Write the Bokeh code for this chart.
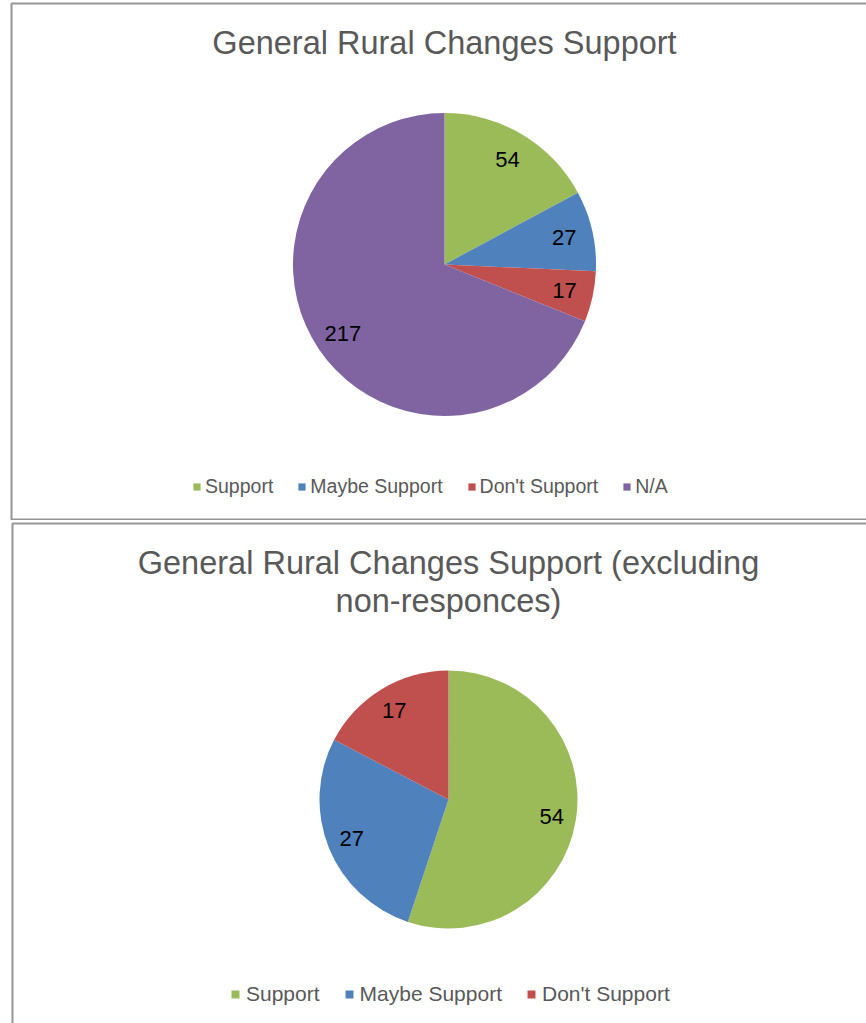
import numpy as np
from bokeh.plotting import figure
from bokeh.models import (ColumnDataSource, Range1d, Label, Legend, LegendItem,
                          BoxAnnotation)
from bokeh.layouts import column
from bokeh.embed import file_html
from bokeh.resources import INLINE
from bokeh.core.properties import value

# ---------------- data ----------------
top_title = "General Rural Changes Support"
top_categories = ["Support", "Maybe Support", "Don't Support", "N/A"]
top_values = [54, 27, 17, 217]
top_colors = ["#9BBB59", "#4F81BD", "#C0504D", "#8064A2"]

bottom_title_lines = ["General Rural Changes Support (excluding", "non-responces)"]
bottom_categories = ["Support", "Maybe Support", "Don't Support"]
bottom_values = [54, 27, 17]
bottom_colors = ["#9BBB59", "#4F81BD", "#C0504D"]

FONT = "Liberation Sans"
TEXT_GREY = "#595959"
BORDER = "#959595"
W = 866


def make_panel(h, cats, vals, colors, titles, title_mids, cx, cy_top, radius,
               label_size, legend_font, legend_sq, legend_standoff, legend_spacing,
               legend_loc, border_top, border_left, border_bottom):
    p = figure(width=W, height=h, output_backend="svg", toolbar_location=None,
               x_range=Range1d(0, W), y_range=Range1d(0, h),
               x_axis_location=None, y_axis_location=None,
               min_border=0, title=None)
    p.grid.visible = False
    p.outline_line_color = None
    p.background_fill_color = "white"
    p.border_fill_color = "white"

    v = np.array(vals, dtype=float)
    frac = v / v.sum()
    cum_end = np.cumsum(frac) * 2 * np.pi
    cum_start = cum_end - frac * 2 * np.pi
    start = np.pi / 2 - cum_end
    end = np.pi / 2 - cum_start
    mid = (start + end) / 2
    cy = h - cy_top
    lr = radius * 0.81
    src = ColumnDataSource(dict(
        start=start, end=end, color=colors, cat=cats,
        lx=cx + lr * np.cos(mid), ly=cy + lr * np.sin(mid),
        txt=[str(x) for x in vals]))

    r = p.wedge(x=cx, y=cy, radius=radius, start_angle="start", end_angle="end",
                fill_color="color", line_color=None, source=src)
    p.text(x="lx", y="ly", text="txt", source=src, text_align="center",
           text_baseline="middle", text_font=value(FONT),
           text_font_size=label_size, text_color="black")

    items = [LegendItem(label=c, renderers=[r], index=i) for i, c in enumerate(cats)]
    leg = Legend(items=items, orientation="horizontal", location=legend_loc,
                 glyph_width=legend_sq, glyph_height=legend_sq,
                 label_standoff=legend_standoff, spacing=legend_spacing,
                 padding=0, margin=0, border_line_color=None,
                 background_fill_alpha=0, label_text_font=FONT,
                 label_text_font_size=legend_font, label_text_color=TEXT_GREY,
                 label_height=legend_sq, click_policy="none")
    p.add_layout(leg, "center")

    for t, m in zip(titles, title_mids):
        p.add_layout(Label(x=cx, y=h - m, text=t, text_align="center",
                           text_baseline="middle", text_font=FONT,
                           text_font_size="32.5px", text_color=TEXT_GREY))

    p.add_layout(BoxAnnotation(left=border_left, right=W + 200,
                               bottom=h - border_bottom, top=h - border_top,
                               fill_alpha=0, line_color=BORDER, line_alpha=1.0,
                               line_width=2))
    return p


p1 = make_panel(520, top_categories, top_values, top_colors, [top_title], [42],
                444, 264, 151.5, "22px", "19.5px", 9, 4, 24, (192, 22), 3, 11, 519)
p2 = make_panel(503, bottom_categories, bottom_values, bottom_colors,
                bottom_title_lines, [42, 80], 448, 279, 129, "22px", "21px", 10,
                6, 24, (230, 17), 3, 12, 700)

layout = column(p1, p2, spacing=0)
open("out.html", "w").write(file_html(layout, INLINE))
